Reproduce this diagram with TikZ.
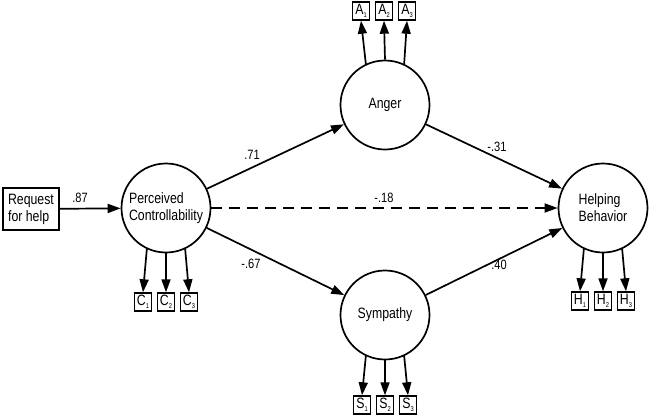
\documentclass[tikz,border=0pt]{standalone}
\usepackage{fontspec}
\setmainfont{Liberation Sans}[FakeStretch=0.82]
\usetikzlibrary{arrows.meta}
\newcommand{\ibox}[2]{#1\raisebox{-2.5pt}{\fontsize{7}{7}\selectfont #2}}
\begin{document}
\begin{tikzpicture}[x=1pt,y=-1pt, line width=1.7pt,
  latent/.style={circle, draw, minimum size=89pt, inner sep=0pt, align=left, font=\fontsize{15}{17}\selectfont},
  ind/.style={draw, line width=1.4pt, minimum width=17pt, minimum height=18pt, inner sep=0pt, font=\fontsize{15}{15}\selectfont},
  arr/.style={-{Triangle[length=13pt,width=9pt]}},
  lbl/.style={font=\fontsize{13.5}{15}\selectfont}
]
\useasboundingbox (0,0) rectangle (650,418);
% latent variables
\node[latent] (pc) at (166,208) {Perceived\\Controllability};
\node[latent] (ang) at (385,105) {Anger};
\node[latent] (sym) at (385,315) {Sympathy};
\node[latent] (hb) at (603,208) {Helping\\Behavior};
% request box
\node[draw, minimum width=56pt, minimum height=42pt, inner sep=2pt, align=left, font=\fontsize{15}{17}\selectfont] (req) at (31,209) {Request\\for help};
% indicator boxes
\node[ind] (a1) at (361,11) {\ibox{A}{1}};
\node[ind] (a2) at (384,11) {\ibox{A}{2}};
\node[ind] (a3) at (407,11) {\ibox{A}{3}};
\node[ind] (c1) at (143,302) {\ibox{C}{1}};
\node[ind] (c2) at (166,302) {\ibox{C}{2}};
\node[ind] (c3) at (189,302) {\ibox{C}{3}};
\node[ind] (s1) at (362,405) {\ibox{S}{1}};
\node[ind] (s2) at (385,405) {\ibox{S}{2}};
\node[ind] (s3) at (408,405) {\ibox{S}{3}};
\node[ind] (h1) at (580,301) {\ibox{H}{1}};
\node[ind] (h2) at (603,301) {\ibox{H}{2}};
\node[ind] (h3) at (626,301) {\ibox{H}{3}};
% structural paths
\draw[arr] (req) -- (pc);
\draw[arr] (pc) -- (ang);
\draw[arr] (pc) -- (sym);
\draw[arr] (ang) -- (hb);
\draw[arr] (sym) -- (hb);
\draw[arr, dash pattern=on 11pt off 7pt] (pc) -- (hb);
% measurement paths
\draw[arr] (ang.115) -- (a1.south);
\draw[arr] (ang.90) -- (a2.south);
\draw[arr] (ang.65) -- (a3.south);
\draw[arr] (pc.-115) -- (c1.north);
\draw[arr] (pc.-90) -- (c2.north);
\draw[arr] (pc.-65) -- (c3.north);
\draw[arr] (sym.-115) -- (s1.north);
\draw[arr] (sym.-90) -- (s2.north);
\draw[arr] (sym.-65) -- (s3.north);
\draw[arr] (hb.-115) -- (h1.north);
\draw[arr] (hb.-90) -- (h2.north);
\draw[arr] (hb.-65) -- (h3.north);
% coefficients
\node[lbl] (l87) at (80,198) {.87};
\node[lbl] (l71) at (252,155) {.71};
\node[lbl] (l31) at (497,147) {-.31};
\node[lbl] (l18) at (384,198) {-.18};
\node[lbl] (l67) at (251,264) {-.67};
\node[lbl] (l40) at (499,265) {.40};
\end{tikzpicture}
\end{document}
